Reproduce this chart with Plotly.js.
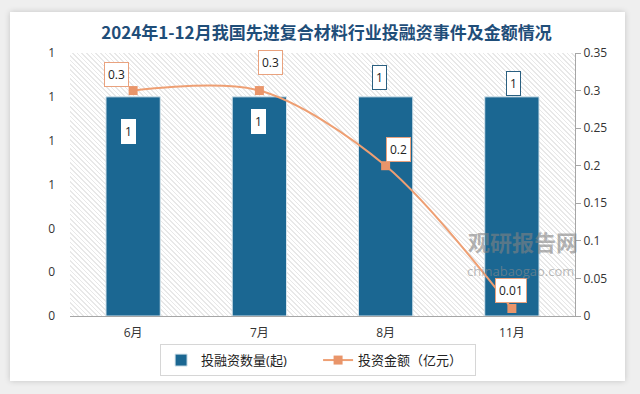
<!DOCTYPE html>
<html>
<head>
<meta charset="utf-8">
<script src="https://cdn.plot.ly/plotly-3.0.1.min.js"></script>
<style>
  html, body { margin: 0; padding: 0; width: 640px; height: 394px; overflow: hidden; background: #efefef; }
  #card { position: absolute; left: 10px; top: 12px; width: 615px; height: 369px; background: #ffffff; box-shadow: 0 0 6px rgba(0,0,0,0.18); }
  #hatch { position: absolute; left: 70px; top: 53px; width: 505px; height: 263px;
    background: repeating-linear-gradient(45deg, #ffffff 0px, #ffffff 2.3px, #e8e8e8 2.3px, #e8e8e8 3.3px); }
  #chart { position: absolute; left: 0; top: 0; width: 640px; height: 394px; }
</style>
</head>
<body>
<div id="card"></div>
<div id="hatch"></div>
<div id="chart"></div>
<script>
// ---- data ----
const categories = ['6月', '7月', '8月', '11月'];
const dealCounts = [1, 1, 1, 1];
const dealAmounts = [0.3, 0.3, 0.2, 0.01];
const countName = '投融资数量(起)';
const amountName = '投资金额（亿元）';
const titleText = '2024年1-12月我国先进复合材料行业投融资事件及金额情况';

// ---- label placement (pixel offsets, styles) ----
const countOffsets = [[-5, 35], [-1, 25], [-6, -19], [2, -13]];
const countBorders = ['#ffffff', '#ffffff', '#2a5f80', '#2a5f80'];
const amountOffsets = [[-17, -16], [11, -28], [13, -16], [-1, -18]];

const FONT = 'Open Sans, "Noto Sans CJK SC", sans-serif';
const BAR = '#1B6792';
const LINE = '#EE9F73';

const traces = [
  {
    type: 'bar', name: countName, x: categories, y: dealCounts,
    width: 0.43, marker: { color: BAR, line: { color: '#d6e4ec', width: 1 } },
    hoverinfo: 'skip'
  },
  {
    type: 'scatter', name: amountName, x: categories, y: dealAmounts, yaxis: 'y2',
    mode: 'lines+markers',
    line: { color: LINE, width: 2, shape: 'spline', smoothing: 0.9 },
    marker: { symbol: 'square', size: 9, color: '#E9956A' },
    hoverinfo: 'skip'
  }
];

const annotations = [];
categories.forEach((c, i) => {
  annotations.push({
    x: c, y: dealCounts[i], xref: 'x', yref: 'y',
    text: String(dealCounts[i]), showarrow: true, arrowcolor: 'rgba(0,0,0,0)', arrowwidth: 0.1,
    ax: countOffsets[i][0], ay: countOffsets[i][1],
    bgcolor: '#ffffff', bordercolor: countBorders[i], borderwidth: 1, borderpad: 3,
    font: { family: FONT, size: 12, color: '#222222' }
  });
  annotations.push({
    x: c, y: dealAmounts[i], xref: 'x', yref: 'y2',
    text: String(dealAmounts[i]), showarrow: true, arrowcolor: 'rgba(0,0,0,0)', arrowwidth: 0.1,
    ax: amountOffsets[i][0], ay: amountOffsets[i][1],
    bgcolor: '#ffffff', bordercolor: '#E9A27E', borderwidth: 1, borderpad: 3,
    font: { family: FONT, size: 12, color: '#222222' }
  });
});
// watermark
annotations.push({
  xref: 'paper', yref: 'paper', x: 0.897, y: 0.285, xanchor: 'center', yanchor: 'middle', showarrow: false,
  text: '<b>观研报告网</b>', font: { family: '"Noto Sans CJK SC", sans-serif', size: 22, color: 'rgba(130,130,130,0.6)' }
});
annotations.push({
  xref: 'paper', yref: 'paper', x: 0.893, y: 0.172, xanchor: 'center', yanchor: 'middle', showarrow: false,
  text: 'chinabaogao.com', font: { family: FONT, size: 13, color: 'rgba(140,140,140,0.6)' }
});

const layout = {
  width: 640, height: 394,
  paper_bgcolor: 'rgba(0,0,0,0)', plot_bgcolor: 'rgba(0,0,0,0)',
  margin: { l: 70, r: 65, t: 53, b: 78 },
  title: {
    text: '<b>' + titleText + '</b>',
    font: { family: '"Noto Sans CJK SC", sans-serif', size: 17, color: '#1F4E79' },
    x: 0.51, xanchor: 'center', y: 0.915, yanchor: 'middle', xref: 'container', yref: 'container'
  },
  showlegend: true,
  legend: {
    orientation: 'h', xref: 'container', yref: 'container',
    x: 0.497, xanchor: 'center', y: 0.086, yanchor: 'middle',
    bgcolor: '#ffffff', bordercolor: '#d6d6d6', borderwidth: 1,
    font: { family: FONT, size: 13, color: '#222222' },
    itemwidth: 30, entrywidth: 112
  },
  xaxis: {
    type: 'category', range: [-0.5, 3.5],
    showline: true, linecolor: '#a6a6a6', linewidth: 1,
    ticks: '', showgrid: false, ticklabelstandoff: 6,
    tickfont: { family: FONT, size: 12, color: '#333333' }
  },
  yaxis: {
    range: [0, 1.2], dtick: 0.2, tick0: 0, tickformat: '.0f',
    showgrid: false, zeroline: false, showline: false, ticks: '',
    ticklabelstandoff: 14,
    tickfont: { family: FONT, size: 12, color: '#333333' }
  },
  yaxis2: {
    overlaying: 'y', side: 'right', range: [0, 0.35], dtick: 0.05, tick0: 0,
    showgrid: false, zeroline: false, showline: true, linecolor: '#a6a6a6', linewidth: 1,
    ticks: 'outside', ticklen: 5, tickcolor: '#a6a6a6',
    tickfont: { family: FONT, size: 12, color: '#333333' }
  },
  annotations: annotations
};

Plotly.newPlot('chart', traces, layout, { displayModeBar: false, staticPlot: true });
</script>
</body>
</html>
